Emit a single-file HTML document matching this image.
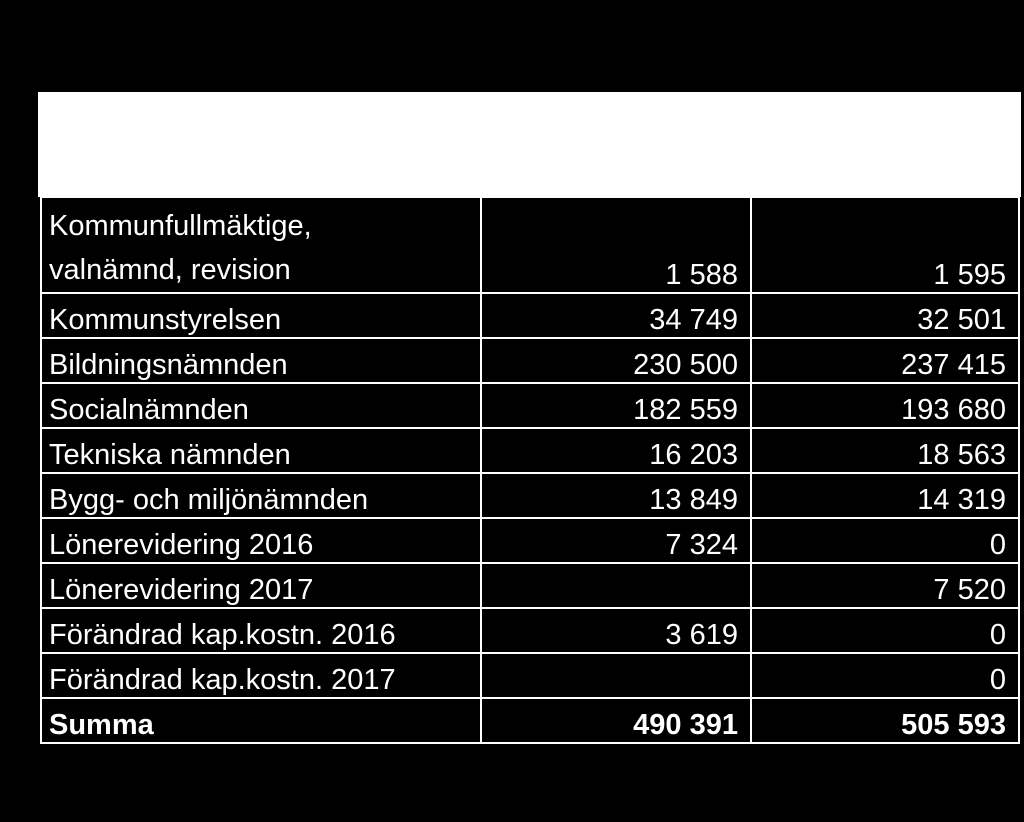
<!DOCTYPE html>
<html><head><meta charset="utf-8"><style>
html,body{margin:0;padding:0;background:#000;width:1024px;height:822px;overflow:hidden}
#wrap{position:relative;width:1024px;height:822px;font-family:"Liberation Sans",sans-serif;color:#fff}
#hdr{position:absolute;left:38px;top:92px;width:983px;height:105px;background:#fff}
table{position:absolute;left:40px;top:196px;border-collapse:collapse;table-layout:fixed}
td{border:2px solid #fff;padding:0 12px 0 7px;font-size:29px;height:43px;line-height:34px;vertical-align:bottom;white-space:nowrap;overflow:hidden}
td.n{text-align:right}
tr.b td{font-weight:bold}
</style></head><body>
<div id="wrap">
<div id="hdr"></div>
<table>
<colgroup><col style="width:440px"><col style="width:270px"><col style="width:268px"></colgroup>
<tr style="height:96px"><td style="height:92px;line-height:44px">Kommunfullmäktige,<br>valnämnd, revision</td><td class="n">1 588</td><td class="n">1 595</td></tr>
<tr><td>Kommunstyrelsen</td><td class="n">34 749</td><td class="n">32 501</td></tr>
<tr><td>Bildningsnämnden</td><td class="n">230 500</td><td class="n">237 415</td></tr>
<tr><td>Socialnämnden</td><td class="n">182 559</td><td class="n">193 680</td></tr>
<tr><td>Tekniska nämnden</td><td class="n">16 203</td><td class="n">18 563</td></tr>
<tr><td>Bygg- och miljönämnden</td><td class="n">13 849</td><td class="n">14 319</td></tr>
<tr><td>Lönerevidering 2016</td><td class="n">7 324</td><td class="n">0</td></tr>
<tr><td>Lönerevidering 2017</td><td class="n"></td><td class="n">7 520</td></tr>
<tr><td>Förändrad kap.kostn. 2016</td><td class="n">3 619</td><td class="n">0</td></tr>
<tr><td>Förändrad kap.kostn. 2017</td><td class="n"></td><td class="n">0</td></tr>
<tr class="b"><td>Summa</td><td class="n">490 391</td><td class="n">505 593</td></tr>
</table>
</div>
</body></html>
